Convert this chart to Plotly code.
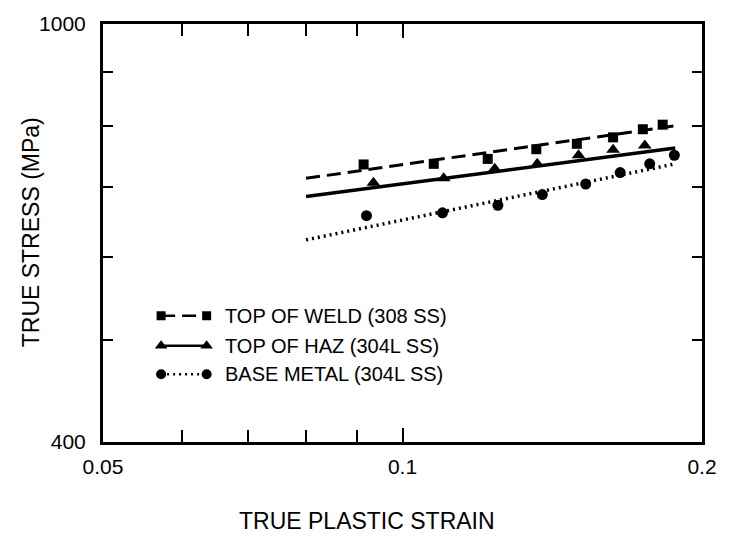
import plotly.graph_objects as go

# ---- data ----
strain_weld = [0.0914, 0.1075, 0.1218, 0.1363, 0.1497, 0.1628, 0.1744, 0.1826]
stress_weld = [735, 736, 744, 760, 769, 780, 794, 802]

strain_haz = [0.0935, 0.1100, 0.1238, 0.1366, 0.1503, 0.1628, 0.1752]
stress_haz = [706, 713, 728, 736, 750, 759, 766]

strain_base = [0.0920, 0.1097, 0.1247, 0.1382, 0.1528, 0.1655, 0.1772, 0.1876]
stress_base = [657, 661, 672, 688, 704, 722, 736, 750]

fit_strain = [0.08, 0.188]
fit_weld = [713, 800]
fit_haz = [685, 762]
fit_base = [623, 736]

legend_labels = ["TOP OF WELD (308 SS)", "TOP OF HAZ (304L SS)", "BASE METAL (304L SS)"]

x_major = [0.05, 0.1, 0.2]
x_major_text = ["0.05", "0.1", "0.2"]
x_minor = [0.06, 0.07, 0.08, 0.09]
y_major = [400, 1000]
y_major_text = ["400", "1000"]
y_minor = [500, 600, 700, 800, 900]

FONT = "Liberation Sans, Arial, Helvetica, sans-serif"
BLACK = "black"

styles = [
    dict(dash="14px,7px", symbol="square", size=10, width=3),
    dict(dash="solid", symbol="triangle-up", size=12, width=3.5),
    dict(dash="2px,4px", symbol="circle", size=11, width=3.5),
]

fig = go.Figure()

series = [
    (strain_weld, stress_weld, fit_weld),
    (strain_haz, stress_haz, fit_haz),
    (strain_base, stress_base, fit_base),
]
for (sx, sy, fy), st in zip(series, styles):
    fig.add_trace(go.Scatter(
        x=fit_strain, y=fy, mode="lines",
        line=dict(color=BLACK, width=st["width"], dash=st["dash"]),
        showlegend=False, hoverinfo="skip"))
    fig.add_trace(go.Scatter(
        x=sx, y=sy, mode="markers",
        marker=dict(symbol=st["symbol"], size=st["size"], color=BLACK),
        showlegend=False))

# ---- legend key drawn on an overlay axis (paper-like 0..1) ----
leg_x0, leg_x1, leg_tx = 0.097, 0.173, 0.200
leg_rows = [0.302, 0.230, 0.162]
for lbl, yy, st in zip(legend_labels, leg_rows, styles):
    fig.add_trace(go.Scatter(
        x=[leg_x0, leg_x1], y=[yy, yy], mode="lines+markers",
        line=dict(color=BLACK, width=2.5, dash=st["dash"]),
        marker=dict(symbol=st["symbol"], size=st["size"] - 1, color=BLACK),
        xaxis="x2", yaxis="y2", showlegend=False, hoverinfo="skip"))
    fig.add_annotation(
        x=leg_tx, y=yy, xref="x2", yref="y2", text=lbl, showarrow=False,
        xanchor="left", yanchor="middle",
        font=dict(family=FONT, size=20, color=BLACK))

axis_common = dict(
    showgrid=False, zeroline=False, showline=True, linecolor=BLACK, linewidth=3,
    mirror="ticks", ticks="inside", tickcolor=BLACK, tickwidth=1.5,
    tickfont=dict(family=FONT, size=21, color=BLACK),
)

fig.update_layout(
    width=729, height=537,
    margin=dict(l=103, r=19, t=14, b=95),
    paper_bgcolor="white", plot_bgcolor="white",
    showlegend=False,
    xaxis=dict(
        type="log", range=[-1.30103, -0.69897],
        tickmode="array", tickvals=x_major, ticktext=x_major_text, ticklen=14,
        minor=dict(tickmode="array", tickvals=x_minor, ticks="inside", ticklen=12,
                   tickcolor=BLACK, tickwidth=1.5, showgrid=False),
        ticklabelstandoff=4,
        **axis_common),
    yaxis=dict(
        type="log", range=[2.60206, 3.0],
        tickmode="array", tickvals=y_major, ticktext=y_major_text, ticklen=10,
        minor=dict(tickmode="array", tickvals=y_minor, ticks="inside", ticklen=10,
                   tickcolor=BLACK, tickwidth=1.5, showgrid=False),
        ticklabelstandoff=10,
        **axis_common),
    xaxis2=dict(overlaying="x", range=[0, 1], visible=False, fixedrange=True),
    yaxis2=dict(overlaying="y", range=[0, 1], visible=False, fixedrange=True),
)

fig.add_annotation(
    x=0.44, y=-0.189, xref="paper", yref="paper", text="TRUE PLASTIC STRAIN",
    showarrow=False, xanchor="center", yanchor="middle",
    font=dict(family=FONT, size=23, color=BLACK))
fig.add_annotation(
    x=-0.120, y=0.502, xref="paper", yref="paper", text="TRUE STRESS (MPa)",
    showarrow=False, textangle=-90, xanchor="center", yanchor="middle",
    font=dict(family=FONT, size=23, color=BLACK))

fig.write_html("out.html")
